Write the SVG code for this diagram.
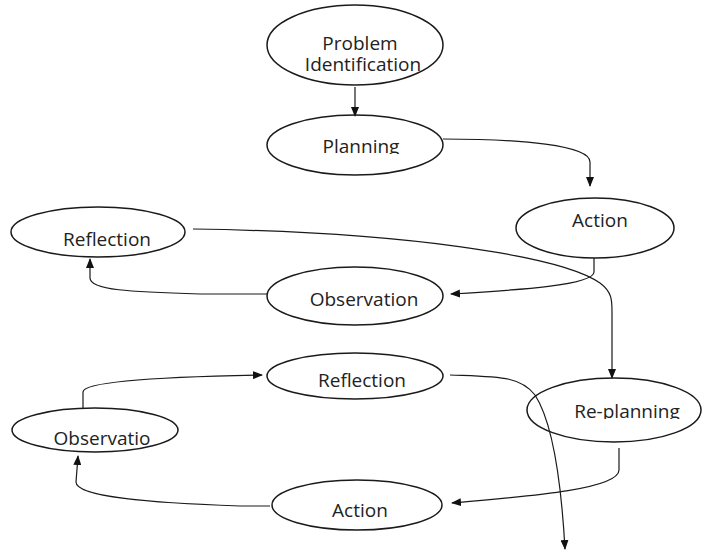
<svg xmlns="http://www.w3.org/2000/svg" width="705" height="552" viewBox="0 0 705 552">
<style>
.n ellipse{fill:none;stroke:#1a1a1a;stroke-width:1.5}
.n text{font-family:"Open Sans","Liberation Sans",sans-serif;font-size:19px;fill:#222;text-anchor:middle}
.c path{fill:none;stroke:#1a1a1a;stroke-width:1.2}
</style>
<defs>
<marker id="ah" markerWidth="10" markerHeight="8" refX="9" refY="4" orient="auto" markerUnits="userSpaceOnUse">
<path d="M0,0 L10,4 L0,8 Z" fill="#111"/>
</marker>
<clipPath id="clipPlan"><rect x="0" y="0" width="705" height="154"/></clipPath>
<clipPath id="clipRe"><rect x="0" y="0" width="705" height="419"/></clipPath>
</defs>
<rect width="705" height="552" fill="#fff"/>
<g class="c">
<path d="M355 87 L355 116" marker-end="url(#ah)"/>
<path d="M443 139 C520 139 590 145 590 162 L590 186" marker-end="url(#ah)"/>
<path d="M594 258 L594 272 C594 285 520 290 451 294" marker-end="url(#ah)"/>
<path d="M267 294 L200 294 C130 292 90 290 90 278 L90 259" marker-end="url(#ah)"/>
<path d="M193 229 C400 232 560 255 600 283 C612 292 612 300 612 312 L612 378" marker-end="url(#ah)"/>
<path d="M83 408 L83 392 C83 382 150 377 262 375" marker-end="url(#ah)"/>
<path d="M619 448 L619 470 C619 490 520 497 452 503" marker-end="url(#ah)"/>
<path d="M270 506 L240 506 C150 503 76 497 76 482 L78 456" marker-end="url(#ah)"/>
<path d="M450 375 C500 377 520 376 535 395 C548 415 560 460 565 549" marker-end="url(#ah)"/>
</g>
<g id="problem" class="n">
<ellipse cx="355" cy="45" rx="88" ry="40"/>
<text x="360" y="50">Problem</text>
<text x="363" y="71">Identification</text>
</g>
<g id="planning" class="n">
<ellipse cx="355" cy="145" rx="88" ry="30"/>
<text x="361" y="153" clip-path="url(#clipPlan)">Planning</text>
</g>
<g id="action1" class="n">
<ellipse cx="595" cy="228" rx="79" ry="30"/>
<text x="600" y="227">Action</text>
</g>
<g id="reflection1" class="n">
<ellipse cx="98" cy="232" rx="87" ry="25"/>
<text x="107" y="246">Reflection</text>
</g>
<g id="observation1" class="n">
<ellipse cx="355" cy="296" rx="88" ry="29"/>
<text x="364" y="306">Observation</text>
</g>
<g id="reflection2" class="n">
<ellipse cx="355" cy="376" rx="88" ry="23"/>
<text x="362" y="387">Reflection</text>
</g>
<g id="replanning" class="n">
<ellipse cx="614" cy="410" rx="87" ry="32"/>
<text x="627" y="418" clip-path="url(#clipRe)">Re-planning</text>
</g>
<g id="observation2" class="n">
<ellipse cx="95" cy="430" rx="83" ry="22"/>
<text x="102" y="445">Observatio</text>
</g>
<g id="action2" class="n">
<ellipse cx="357" cy="505" rx="85" ry="25"/>
<text x="360" y="517">Action</text>
</g>
</svg>
